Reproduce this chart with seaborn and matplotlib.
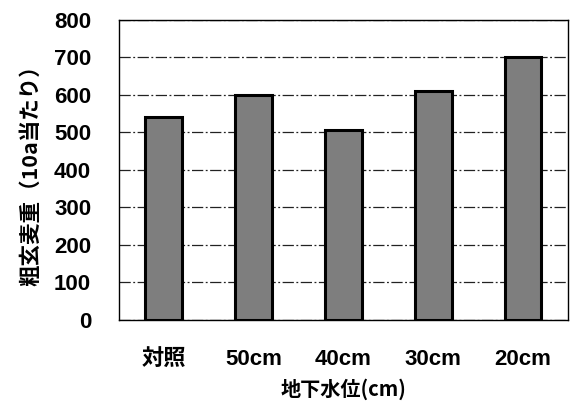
import pandas as pd
import matplotlib
matplotlib.use("Agg")
import matplotlib.pyplot as plt
import seaborn as sns

# 地下水位ごとの粗玄麦重
categories = ["対照", "50cm", "40cm", "30cm", "20cm"]
weights = [540, 600, 507, 610, 700]
yticks = [0, 100, 200, 300, 400, 500, 600, 700, 800]

df = pd.DataFrame({"level": categories, "weight": weights})

sns.set_style("white")
plt.rcParams["font.family"] = ["Noto Sans CJK JP", "DejaVu Sans"]
plt.rcParams["text.color"] = "black"
plt.rcParams["axes.labelcolor"] = "black"
plt.rcParams["xtick.color"] = "black"
plt.rcParams["ytick.color"] = "black"

fig = plt.figure(figsize=(5.8, 4.07), dpi=100)
ax = fig.add_axes([0.205, 0.214, 0.774, 0.737])

sns.barplot(data=df, x="level", y="weight", color="#7e7e7e", width=0.41,
            edgecolor="black", linewidth=2.2, saturation=1, ax=ax, zorder=3)

ax.set_ylim(0, 800)
ax.set_yticks(yticks)
ax.set_xlim(-0.5, len(categories) - 0.5)
ax.yaxis.grid(True, color="#222222", linestyle=(0, (9, 2, 1.5, 2)), linewidth=0.9, zorder=0)
ax.set_axisbelow(True)

for s in ax.spines.values():
    s.set_color("black")
    s.set_linewidth(1.0)

ax.tick_params(axis="y", length=0, pad=20, labelsize=16)
ax.tick_params(axis="x", length=0, pad=21, labelsize=16)
for t in ax.get_yticklabels() + ax.get_xticklabels():
    t.set_fontweight("bold")
    t.set_family(["Liberation Sans", "Noto Sans CJK JP"])

ax.set_ylabel("粗玄麦重（10a当たり）", fontsize=15.5, fontweight="bold", labelpad=9)
ax.set_xlabel("地下水位(cm)", fontsize=14.5, fontweight="bold", labelpad=6)

fig.savefig("out.png", dpi=100)
